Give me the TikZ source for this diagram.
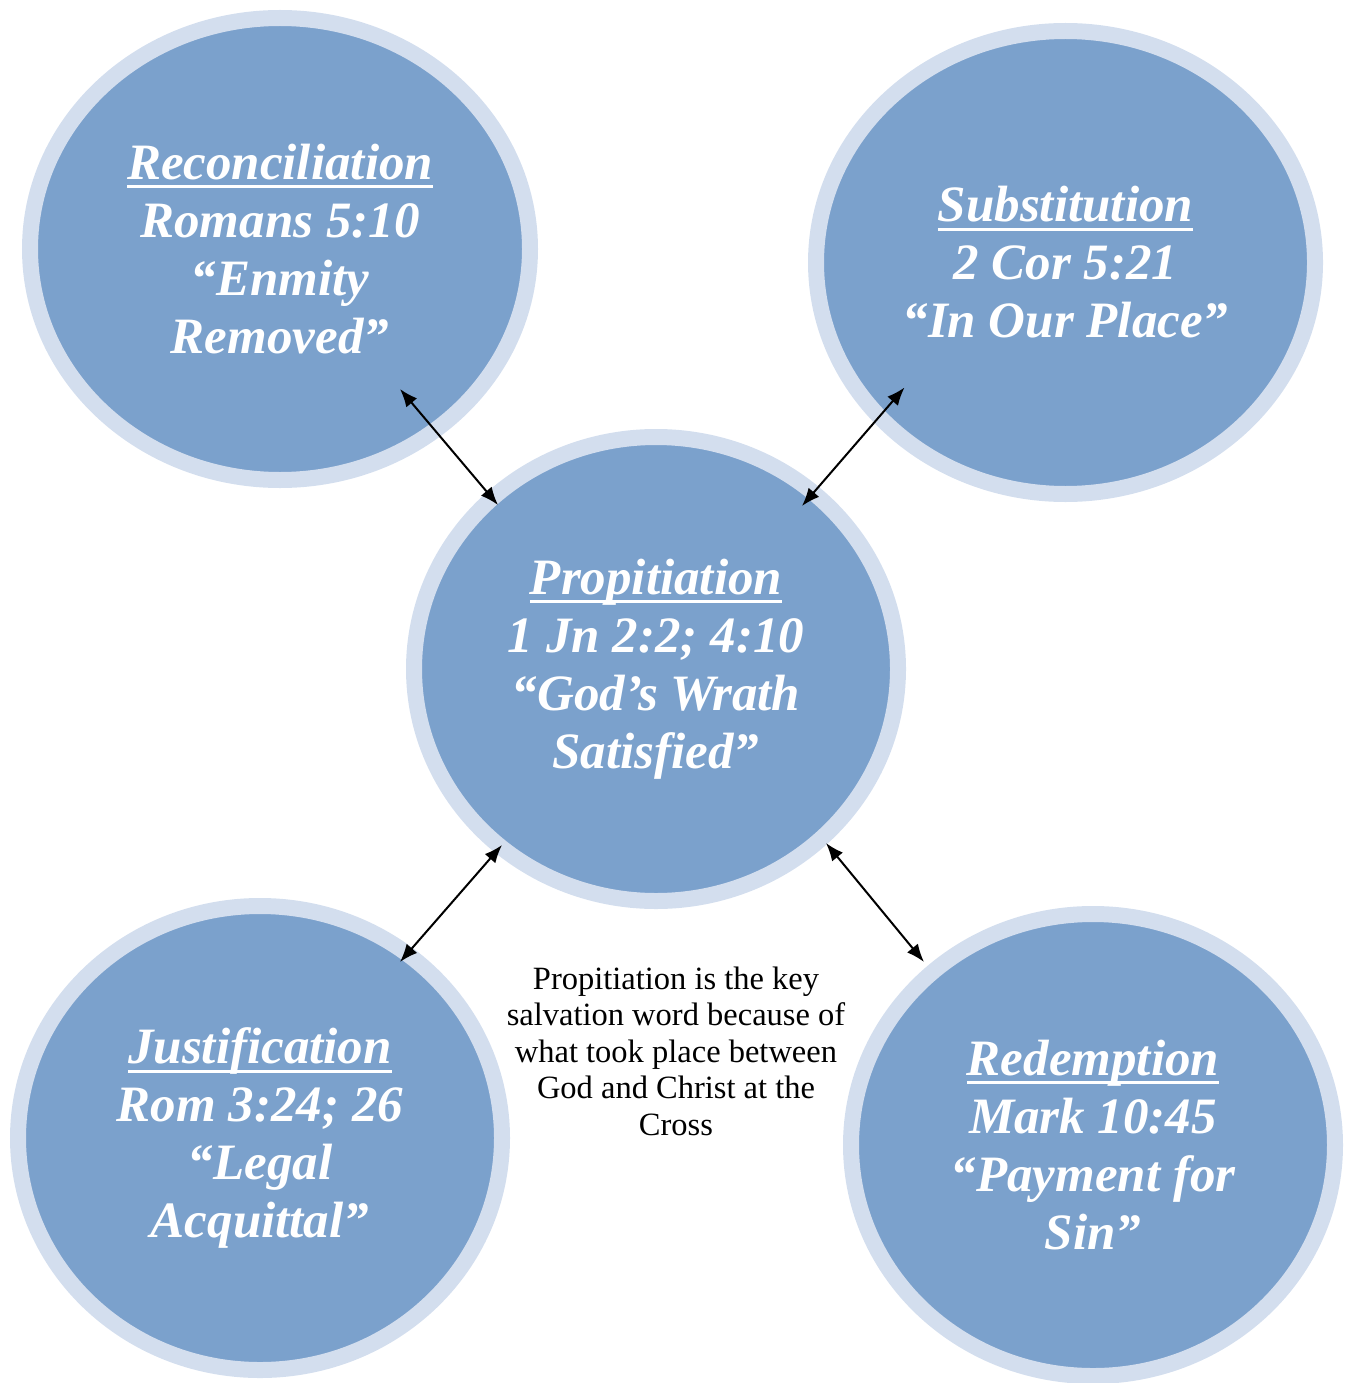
\documentclass[tikz,border=0pt]{standalone}
\usepackage{fontspec}
\setmainfont{Liberation Serif}
\usetikzlibrary{shapes.geometric,arrows.meta}
\definecolor{fillblue}{HTML}{7BA1CC}
\definecolor{ringblue}{HTML}{D3DEEE}
\newcommand\ulttl[1]{\setbox0\hbox{#1}\hbox{\rlap{\rule[-9pt]{\wd0}{3pt}}\box0}}
\begin{document}
\begin{tikzpicture}[x=1pt,y=-1pt,
  bubble/.style={ellipse, draw=ringblue, fill=fillblue, line width=16pt, inner sep=0pt, outer sep=0pt, text=white, font=\fontsize{51}{58}\selectfont\bfseries\itshape, align=center},
  conn/.style={{Latex[length=18pt,width=14pt]}-{Latex[length=18pt,width=14pt]}, line width=2pt, black},
  note/.style={font=\fontsize{32.5}{36.5}\selectfont, align=center, inner sep=0pt}]
\useasboundingbox (0,0) rectangle (1345,1383);
\node[bubble, minimum width=500pt, minimum height=462pt] (rec) at (280,249)
  {\ulttl{Reconciliation}\\Romans 5:10\\“Enmity\\Removed”};
\node[bubble, minimum width=499pt, minimum height=463pt] (sub) at (1065.5,262.5)
  {\ulttl{Substitution}\\2 Cor 5:21\\“In Our Place”};
\node[bubble, minimum width=484pt, minimum height=464pt] (prop) at (656,669)
  {\ulttl{Propitiation}\\1 Jn 2:2; 4:10\\“God’s Wrath\\Satisfied”};
\node[bubble, minimum width=484pt, minimum height=464pt] (jus) at (260,1138)
  {\ulttl{Justification}\\Rom 3:24; 26\\“Legal\\Acquittal”};
\node[bubble, minimum width=484pt, minimum height=462pt] (red) at (1093,1145)
  {\ulttl{Redemption}\\Mark 10:45\\“Payment for\\Sin”};
\node[note] (txt) at (676,1051) {Propitiation is the key\\salvation word because of\\what took place between\\God and Christ at the\\Cross};
\draw[conn] ([shift={(120,140)}]rec.center) -- ([shift={(-158,-164)}]prop.center);
\draw[conn] ([shift={(-161,125)}]sub.center) -- ([shift={(146,-163)}]prop.center);
\draw[conn] ([shift={(-154,176)}]prop.center) -- ([shift={(140,-176)}]jus.center);
\draw[conn] ([shift={(170,174)}]prop.center) -- ([shift={(-169,-183)}]red.center);
\end{tikzpicture}
\end{document}
